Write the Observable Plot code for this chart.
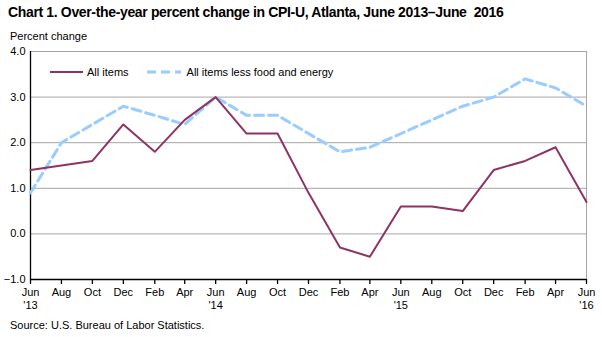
<!DOCTYPE html>
<html><head><meta charset="utf-8">
<script src="https://cdn.jsdelivr.net/npm/d3@7"></script>
<script src="https://cdn.jsdelivr.net/npm/@observablehq/plot@0.6"></script>
<style>
body{margin:0;background:#fff;font-family:"Liberation Sans",Arial,sans-serif;}
#wrap{position:relative;width:602px;height:337px;overflow:hidden;}
.t{position:absolute;white-space:pre;color:#000;}
</style></head>
<body><div id="wrap"></div>
<script>
const months = ["2013-06","2013-08","2013-10","2013-12","2014-02","2014-04","2014-06","2014-08","2014-10","2014-12","2015-02","2015-04","2015-06","2015-08","2015-10","2015-12","2016-02","2016-04","2016-06"];
const tickLabels = ["Jun\n'13","Aug","Oct","Dec","Feb","Apr","Jun\n'14","Aug","Oct","Dec","Feb","Apr","Jun\n'15","Aug","Oct","Dec","Feb","Apr","Jun\n'16"];
const allItems = [1.4,1.5,1.6,2.4,1.8,2.5,3.0,2.2,2.2,0.9,-0.3,-0.5,0.6,0.6,0.5,1.4,1.6,1.9,0.7];
const lessFoodEnergy = [0.9,2.0,2.4,2.8,2.6,2.4,3.0,2.6,2.6,2.2,1.8,1.9,2.2,2.5,2.8,3.0,3.4,3.2,2.8];
const seriesNames = ["All items","All items less food and energy"];
const yTicks = [-1,0,1,2,3,4];

const dates = months.map(m => new Date(m + "-01T00:00:00Z"));
const labelOf = new Map(dates.map((d,i)=>[+d, tickLabels[i]]));
const rows = dates.map((d,i)=>({date:d, a:allItems[i], b:lessFoodEnergy[i]}));

const colA = "#8f3363", colB = "#99ccff";

const chart = Plot.plot({
  width:602, height:337,
  marginLeft:30, marginRight:16, marginTop:51, marginBottom:58,
  style:{fontFamily:"'Liberation Sans', Arial, sans-serif", fontSize:"11px", color:"#000", background:"#fff"},
  x:{type:"utc", domain:[dates[0], dates[dates.length-1]]},
  y:{domain:[-1,4]},
  marks:[
    Plot.gridY(yTicks.slice(1), {stroke:"#a6a6a6", strokeOpacity:1}),
    Plot.frame({stroke:"#a6a6a6"}),
    Plot.ruleY([-1], {stroke:"#000", strokeWidth:1.3}),
    Plot.ruleX([dates[0]], {stroke:"#000", strokeWidth:1.3}),
    Plot.axisY(yTicks, {tickSize:0, tickPadding:5, tickFormat:d3.format(".1f"), label:null, fontSize:11}),
    Plot.axisX(dates, {tickSize:5, tickPadding:3, tickFormat:d=>labelOf.get(+d), label:null, fontSize:11, stroke:"#000", strokeWidth:1.3, lineHeight:1.12}),
    Plot.line(rows, {x:"date", y:"b", stroke:colB, strokeWidth:3, strokeDasharray:"9,5"}),
    Plot.line(rows, {x:"date", y:"a", stroke:colA, strokeWidth:2})
  ]
});
const wrap = document.getElementById("wrap");
chart.style.position="absolute"; chart.style.left="0"; chart.style.top="0";
wrap.appendChild(chart);

function addText(txt, x, y, css){const d=document.createElement("div");d.className="t";d.textContent=txt;d.style.left=x+"px";d.style.top=y+"px";Object.assign(d.style,css||{});wrap.appendChild(d);return d;}
addText("Chart 1. Over-the-year percent change in CPI-U, Atlanta, June 2013\u2013June  2016", 8, 4, {fontWeight:"bold", fontSize:"14px", letterSpacing:"-0.35px"});
addText("Percent change", 10, 30, {fontSize:"11px"});
addText("Source: U.S. Bureau of Labor Statistics.", 10, 319, {fontSize:"11px"});

// legend
const leg = document.createElement("div");
leg.style.cssText="position:absolute;left:50px;top:66px;display:flex;align-items:center;font-size:11px;white-space:nowrap;";
leg.innerHTML =
 `<svg width="33" height="6"><line x1="0" y1="3" x2="33" y2="3" stroke="${colA}" stroke-width="2"/></svg><span style="margin-left:4px">${seriesNames[0]}</span>`+
 `<svg width="34" height="6" style="margin-left:18px"><line x1="0" y1="3" x2="34" y2="3" stroke="${colB}" stroke-width="3" stroke-dasharray="9,5"/></svg><span style="margin-left:6px">${seriesNames[1]}</span>`;
wrap.appendChild(leg);
</script></body></html>
